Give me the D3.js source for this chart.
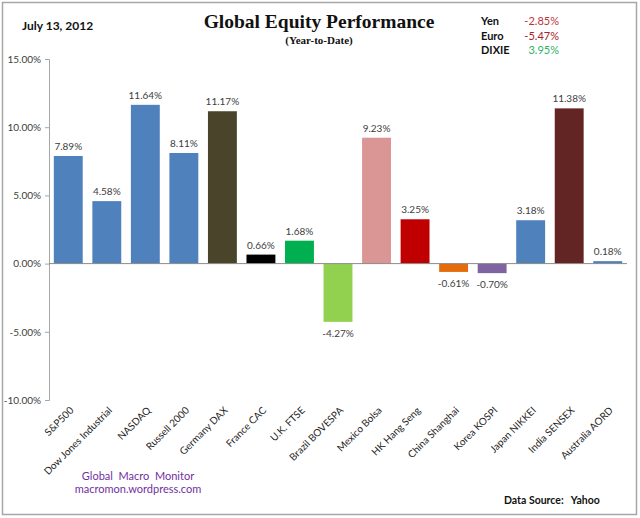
<!DOCTYPE html>
<html><head><meta charset="utf-8">
<script src="https://cdn.jsdelivr.net/npm/d3@7"></script>
<style>body{margin:0;background:#fff}svg{display:block}text{white-space:pre}</style>
</head><body>
<svg id="c" width="640" height="518"></svg>
<script>
const categories = ["S&P500","Dow Jones Industrial","NASDAQ","Russell 2000","Germany DAX","France CAC","U.K. FTSE","Brazil BOVESPA","Mexico Bolsa","HK Hang Seng","China Shanghai","Korea KOSPI","Japan NIKKEI","India SENSEX","Australia AORD"];
const values = [7.89,4.58,11.64,8.11,11.17,0.66,1.68,-4.27,9.23,3.25,-0.61,-0.70,3.18,11.38,0.18];
const barColors = ["#4f81bd","#4f81bd","#4f81bd","#4f81bd","#4a452a","#000000","#00b050","#92d050","#d99694","#c00000","#e46c0a","#8064a2","#4f81bd","#632523","#4f81bd"];
const yTicks = [-10,-5,0,5,10,15];
const fxNames = ["Yen","Euro","DIXIE"];
const fxValues = [-2.85,-5.47,3.95];
const fxColors = ["#c0323a","#a8202a","#2fb065"];

const svg = d3.select("#c");
const sans = "Lato, 'Open Sans', sans-serif";
svg.append("rect").attr("x",2.5).attr("y",2.5).attr("width",634).attr("height",512)
  .attr("fill","#fff").attr("stroke","#a6a6a6").attr("stroke-width",1.5);

const y = d3.scaleLinear().domain([-10,15]).range([400,59]);
const x = d3.scaleBand().domain(categories).range([49,627]).paddingInner(0.25).paddingOuter(0.125);

// y axis
const yAxis = d3.axisLeft(y).tickValues(yTicks).tickSize(4).tickFormat(d => d.toFixed(2)+"%");
const ga = svg.append("g").attr("transform","translate(49,0)").call(yAxis);
ga.select(".domain").attr("stroke","#a6a6a6").attr("d","M-4,59.5H0.5V400.5H-4");
ga.selectAll(".tick line").attr("stroke","#a6a6a6");
ga.selectAll(".tick text").attr("font-family",sans).attr("font-size",10).attr("fill","#404040").attr("x",-8);

// bars
const data = categories.map((c,i)=>({c, v:values[i], col:barColors[i]}));
svg.append("g").selectAll("rect").data(data).join("rect")
  .attr("x",d=>x(d.c)).attr("width",x.bandwidth())
  .attr("y",d=>Math.min(y(d.v),y(0)))
  .attr("height",d=>Math.max(1.5,Math.abs(y(d.v)-y(0))))
  .attr("fill",d=>d.col);

// zero line
svg.append("line").attr("x1",49).attr("x2",627).attr("y1",y(0)).attr("y2",y(0))
  .attr("stroke","#8c8c8c").attr("stroke-width",1);

// data labels
svg.append("g").selectAll("text").data(data).join("text")
  .attr("x",d=>x(d.c)+x.bandwidth()/2)
  .attr("y",d=>d.v>=0 ? y(d.v)-6 : y(d.v)+15)
  .attr("text-anchor","middle").attr("font-family",sans).attr("font-size",10).attr("fill","#404040")
  .text(d=>d.v.toFixed(2)+"%");

// category labels
svg.append("g").selectAll("text").data(categories).join("text")
  .attr("transform",d=>`translate(${x(d)+x.bandwidth()/2+6},${411}) rotate(-45)`)
  .attr("text-anchor","end").attr("font-family",sans).attr("font-size",10).attr("fill","#262626")
  .text(d=>d);

// titles
svg.append("text").attr("x",319).attr("y",28).attr("text-anchor","middle")
  .attr("font-family","'Liberation Serif', serif").attr("font-weight","bold").attr("font-size",19.5).attr("fill","#111")
  .text("Global Equity Performance");
svg.append("text").attr("x",319).attr("y",44).attr("text-anchor","middle")
  .attr("font-family","'Liberation Serif', serif").attr("font-weight","bold").attr("font-size",11).attr("fill","#111")
  .text("(Year-to-Date)");
svg.append("text").attr("x",22).attr("y",30).attr("font-family",sans).attr("font-weight","bold")
  .attr("font-size",12).attr("fill","#111").text("July 13, 2012");

// FX box
const fx = svg.append("g");
fxNames.forEach((n,i)=>{
  fx.append("text").attr("x",481).attr("y",25+i*14.5).attr("font-family",sans).attr("font-weight","bold")
    .attr("font-size",11).attr("fill","#111").text(n);
  fx.append("text").attr("x",559).attr("y",25+i*14.5).attr("text-anchor","end").attr("font-family",sans)
    .attr("font-size",11).attr("fill",fxColors[i]).text(fxValues[i].toFixed(2)+"%");
});

// footer
svg.append("text").attr("x",138).attr("y",480).attr("text-anchor","middle").attr("font-family",sans)
  .attr("font-size",11).attr("fill","#7030a0").text("Global\u00a0\u00a0Macro\u00a0\u00a0Monitor");
svg.append("text").attr("x",138).attr("y",493).attr("text-anchor","middle").attr("font-family",sans)
  .attr("font-size",11).attr("fill","#7030a0").text("macromon.wordpress.com");
svg.append("text").attr("x",504).attr("y",504).attr("font-family",sans).attr("font-weight","bold")
  .attr("font-size",10.5).attr("fill","#111").text("Data Source:\u00a0\u00a0\u00a0Yahoo");
</script>
</body></html>
